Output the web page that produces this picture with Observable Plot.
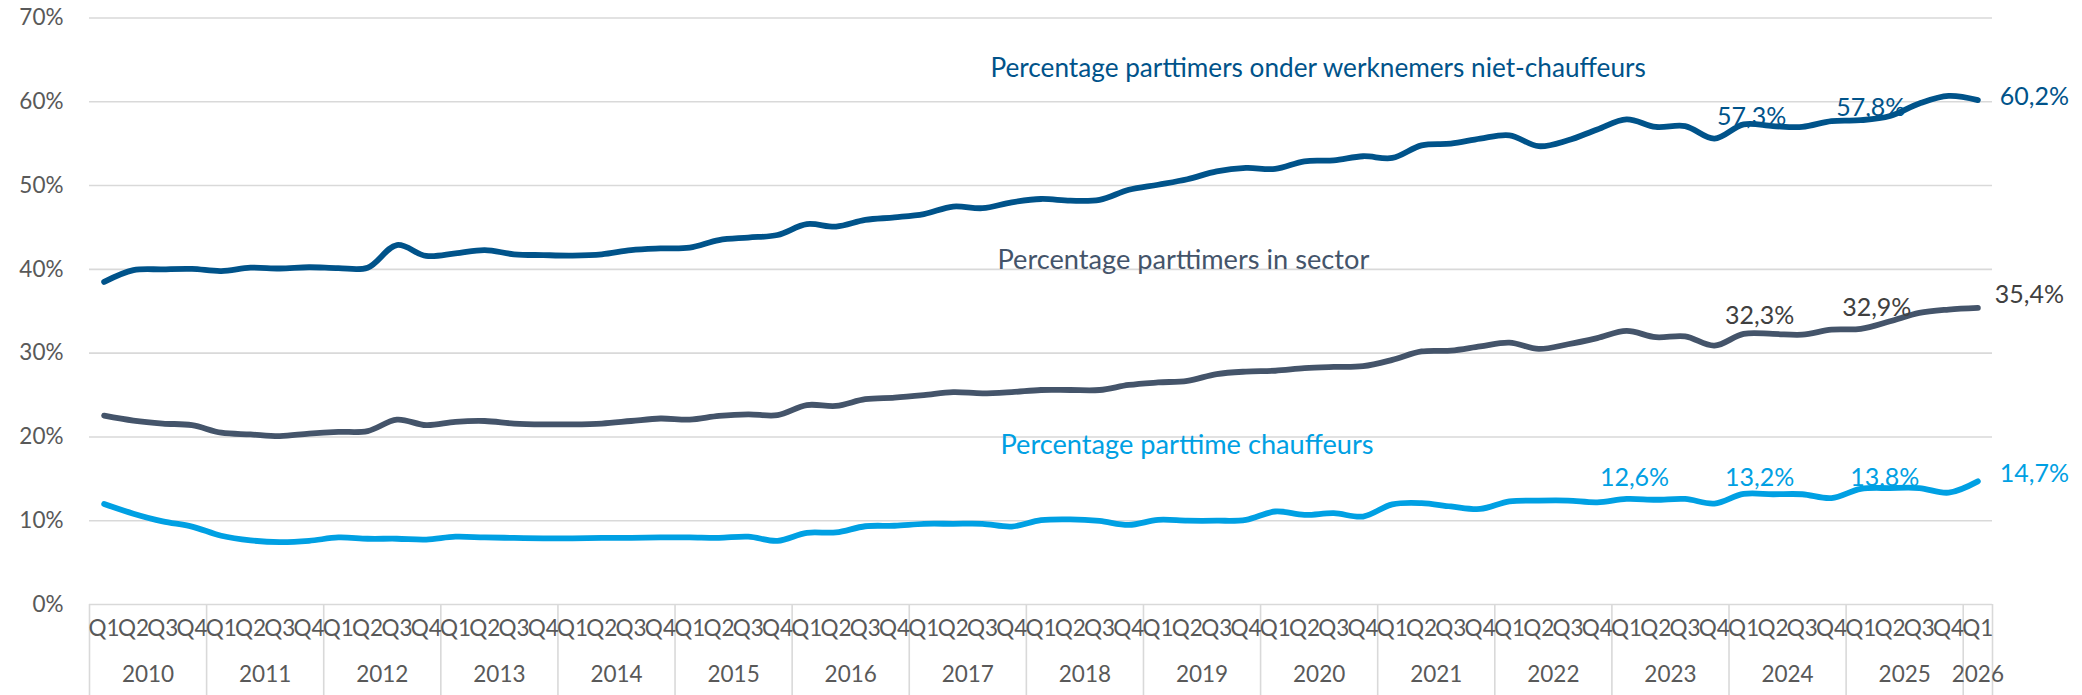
<!DOCTYPE html>
<html>
<head>
<meta charset="utf-8">
<script src="https://cdn.jsdelivr.net/npm/d3@7"></script>
<script src="https://cdn.jsdelivr.net/npm/@observablehq/plot@0.6"></script>
<style>
  html, body { margin: 0; padding: 0; background: #ffffff; }
  #chart { width: 2082px; height: 695px; }
</style>
</head>
<body>
<div id="chart"></div>
<script>
// ---------------- DATA ----------------
const years = ["2010","2011","2012","2013","2014","2015","2016","2017","2018","2019","2020","2021","2022","2023","2024","2025","2026"];
const quarters = ["Q1","Q2","Q3","Q4"];
const yTicks = [0, 0.1, 0.2, 0.3, 0.4, 0.5, 0.6, 0.7];

// Percentage parttimers onder werknemers niet-chauffeurs (%)
const nietChauffeurs = [
  38.5, 39.9, 40.0, 40.05, 39.8, 40.2, 40.1, 40.25, 40.15, 40.2,
  42.9, 41.6, 41.9, 42.3, 41.8, 41.7, 41.65, 41.8, 42.3, 42.5,
  42.6, 43.5, 43.8, 44.1, 45.4, 45.1, 45.9, 46.2, 46.6, 47.5,
  47.3, 48.0, 48.4, 48.2, 48.3, 49.5, 50.1, 50.75, 51.7, 52.1,
  52.0, 52.9, 53.0, 53.5, 53.3, 54.8, 55.0, 55.6, 56.0, 54.7,
  55.4, 56.7, 57.9, 57.0, 57.1, 55.6, 57.3, 57.1, 57.0, 57.7,
  57.8, 58.3, 59.8, 60.7, 60.2
];
// Percentage parttimers in sector (%)
const sector = [
  22.55, 21.96, 21.6, 21.4, 20.5, 20.3, 20.1, 20.4, 20.6, 20.7,
  22.06, 21.4, 21.8, 21.9, 21.6, 21.5, 21.5, 21.6, 21.9, 22.2,
  22.06, 22.5, 22.7, 22.6, 23.8, 23.7, 24.5, 24.7, 25.0, 25.35,
  25.2, 25.35, 25.6, 25.6, 25.6, 26.2, 26.5, 26.7, 27.5, 27.8,
  27.9, 28.2, 28.35, 28.45, 29.2, 30.2, 30.3, 30.8, 31.25, 30.5,
  31.06, 31.8, 32.65, 31.9, 32.0, 30.9, 32.3, 32.3, 32.2, 32.8,
  32.9, 33.8, 34.8, 35.2, 35.4
];
// Percentage parttime chauffeurs (%)
const chauffeurs = [
  12.0, 10.84, 9.92, 9.3, 8.2, 7.65, 7.45, 7.6, 8.0, 7.85,
  7.85, 7.75, 8.1, 8.0, 7.95, 7.9, 7.9, 7.95, 7.95, 8.0,
  8.0, 7.95, 8.1, 7.6, 8.56, 8.6, 9.34, 9.4, 9.63, 9.63,
  9.63, 9.3, 10.06, 10.16, 9.97, 9.5, 10.1, 10.0, 10.0, 10.1,
  11.1, 10.7, 10.9, 10.5, 11.95, 12.1, 11.7, 11.4, 12.3, 12.4,
  12.4, 12.2, 12.6, 12.5, 12.6, 12.05, 13.2, 13.16, 13.16, 12.7,
  13.8, 13.9, 13.9, 13.35, 14.7
];
const seriesNames = [
  "Percentage parttimers onder werknemers niet-chauffeurs",
  "Percentage parttimers in sector",
  "Percentage parttime chauffeurs"
];
// Periods (index into the series) that carry a data label
const labelledNiet = [56, 60, 64];
const labelledSector = [56, 60, 64];
const labelledChauffeurs = [52, 56, 60, 64];

// ---------------- STYLES / LAYOUT ----------------
const W = 2082, H = 695;
const M = {top: 17.5, right: 90, bottom: 91, left: 89};
const FONT = "Lato, 'Open Sans', sans-serif";
const AXIS_COLOR = "#595959";
const GRID = "#d9d9d9";

const series = [
  {values: nietChauffeurs, name: seriesNames[0], stroke: "#00538a", labelFill: "#00538a", nameFill: "#00538a",
   labelled: labelledNiet, nameAt: {i: 30, v: 0.640, dx: 8}, nameSize: 26.2,
   offsets: {56: [8, -7], 60: [10, -12.6], 64: [22, -3.5, "start"]}},
  {values: sector, name: seriesNames[1], stroke: "#44546a", labelFill: "#404040", nameFill: "#44546a",
   labelled: labelledSector, nameAt: {i: 30, v: 0.4105, dx: 15}, nameSize: 27.2,
   offsets: {56: [16, -18], 60: [16, -21], 64: [17, -12.8, "start"]}},
  {values: chauffeurs, name: seriesNames[2], stroke: "#00a0e3", labelFill: "#00a0e3", nameFill: "#00a0e3",
   labelled: labelledChauffeurs, nameAt: {i: 30, v: 0.19, dx: 18}, nameSize: 27.2,
   offsets: {52: [8, -21], 56: [16, -16], 60: [24, -11], 64: [22, -7.6, "start"]}}
];

// ---------------- TABLES ----------------
const periods = years.flatMap(y => (y === "2026" ? ["Q1"] : quarters).map(q => ({year: y, quarter: q})));
periods.forEach((p, i) => p.i = i);
const yearGroups = years.map(y => {
  const idx = periods.filter(p => p.year === y).map(p => p.i);
  return {year: y, center: d3.mean(idx)};
});
const bounds = periods.filter(p => p.quarter === "Q1").map(p => p.i - 0.5).concat([periods.length - 0.5]);
const fmt = v => v.toFixed(1).replace(".", ",") + "%";

const marks = [];
// gridlines
marks.push(Plot.ruleY(yTicks, {stroke: GRID, strokeWidth: 1.6}));
// category separators (below the plot area)
marks.push(Plot.ruleX(bounds, {x: d => d, stroke: GRID, strokeWidth: 1.6,
  insetTop: H - M.top - M.bottom, insetBottom: -M.bottom}));
// y tick labels
marks.push(Plot.text(yTicks, {y: d => d, text: d3.format(".0%"), frameAnchor: "left", textAnchor: "end",
  dx: -26, fill: AXIS_COLOR, fontSize: 22.5}));
// quarter labels
marks.push(Plot.text(periods, {x: "i", text: "quarter", frameAnchor: "bottom", dy: 31,
  fill: AXIS_COLOR, fontSize: 22.5}));
// year labels
marks.push(Plot.text(yearGroups, {x: "center", text: "year", frameAnchor: "bottom", dy: 77,
  fill: AXIS_COLOR, fontSize: 22.5}));

// lines
for (const s of series) {
  const rows = s.values.map((v, i) => ({i, v: v / 100}));
  marks.push(Plot.line(rows, {x: "i", y: "v", stroke: s.stroke, strokeWidth: 5.8,
    curve: "catmull-rom", strokeLinecap: "round", strokeLinejoin: "round"}));
}
// data labels
for (const s of series) {
  for (const i of s.labelled) {
    const [dx, dy, anchor] = s.offsets[i];
    marks.push(Plot.text([{i, v: s.values[i] / 100}], {x: "i", y: "v", text: d => fmt(s.values[d.i]),
      dx, dy, textAnchor: anchor || "middle", fill: s.labelFill, fontSize: 25}));
  }
  // series name
  marks.push(Plot.text([s.nameAt], {x: "i", y: "v", text: () => s.name, dx: s.nameAt.dx,
    textAnchor: "start", fill: s.nameFill, fontSize: s.nameSize}));
}

const chart = Plot.plot({
  width: W, height: H,
  marginTop: M.top, marginRight: M.right, marginBottom: M.bottom, marginLeft: M.left,
  style: {fontFamily: FONT, background: "#ffffff", overflow: "visible"},
  x: {type: "linear", domain: [-0.5, periods.length - 0.5], axis: null},
  y: {type: "linear", domain: [0, 0.7], axis: null},
  marks
});
document.getElementById("chart").appendChild(chart);
</script>
</body>
</html>
